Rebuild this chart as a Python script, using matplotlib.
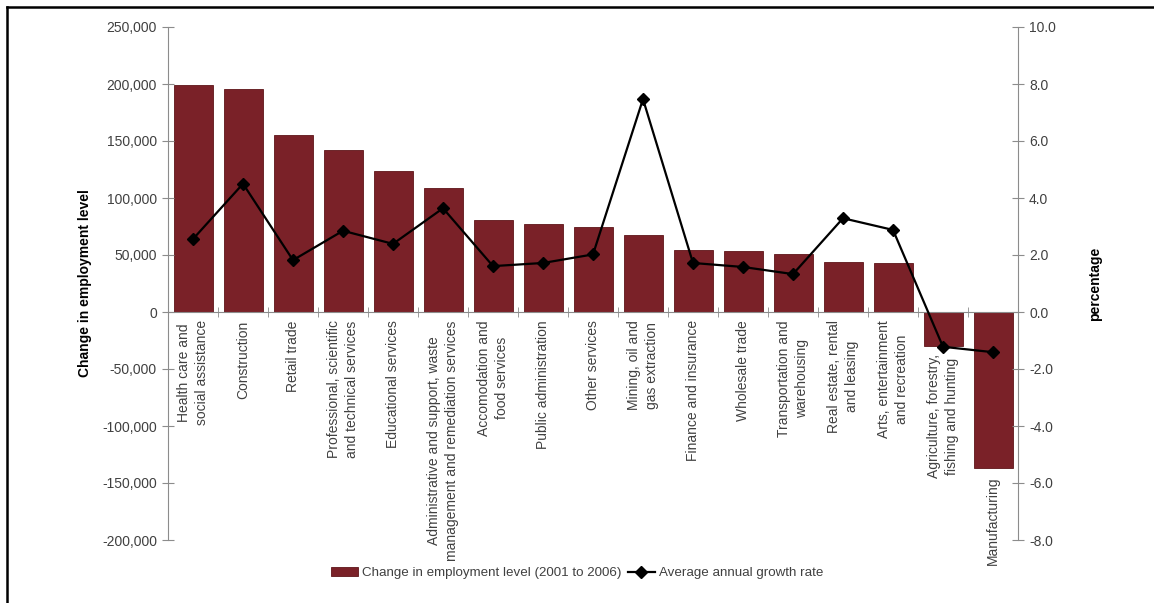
import matplotlib.pyplot as plt
from matplotlib.lines import Line2D
import numpy as np

plt.rcParams['font.family'] = ['Liberation Sans', 'DejaVu Sans']

industries = [
    "Health care and\nsocial assistance",
    "Construction",
    "Retail trade",
    "Professional, scientific\nand technical services",
    "Educational services",
    "Administrative and support, waste\nmanagement and remediation services",
    "Accomodation and\nfood services",
    "Public administration",
    "Other services",
    "Mining, oil and\ngas extraction",
    "Finance and insurance",
    "Wholesale trade",
    "Transportation and\nwarehousing",
    "Real estate, rental\nand leasing",
    "Arts, entertainment\nand recreation",
    "Agriculture, forestry,\nfishing and hunting",
    "Manufacturing",
]
employment_change = [199500, 195900, 155500, 142400, 124000, 108500, 80400, 77200,
                     74300, 67300, 54700, 53200, 51200, 43900, 42700, -29500, -137100]
growth_rate = [2.56, 4.50, 1.82, 2.85, 2.39, 3.64, 1.61, 1.72, 2.02, 7.47,
               1.72, 1.58, 1.33, 3.29, 2.88, -1.22, -1.41]

bar_color = '#7a2128'
axis_grey = '#8c8c8c'
text_grey = '#404040'

fig = plt.figure(figsize=(11.54, 6.03), dpi=100)
ax = fig.add_axes([168 / 1154, 1 - 540 / 603, 850 / 1154, 513 / 603])
x = np.arange(len(industries))

bars = ax.bar(x, employment_change, width=0.78, color=bar_color, edgecolor='#5e1519',
              linewidth=0.6, label='Change in employment level (2001 to 2006)')
ax.set_xlim(-0.5, len(industries) - 0.5)
ax.set_ylim(-200000, 250000)
ax.set_yticks(np.arange(-200000, 250001, 50000))
ax.set_yticklabels(['{:,.0f}'.format(v) for v in np.arange(-200000, 250001, 50000)])

# zero line as the category axis, ticks between categories
ax.spines['top'].set_visible(False)
ax.spines['right'].set_visible(False)
ax.spines['bottom'].set_position(('data', 0))
ax.spines['bottom'].set_color(axis_grey)
ax.spines['left'].set_color(axis_grey)
ax.set_xticks(x)
ax.set_xticklabels([])
ax.tick_params(axis='x', which='major', length=0)
ax.set_xticks(np.arange(-0.5, len(industries) + 0.5, 1)[1:-1], minor=True)
ax.tick_params(axis='x', which='minor', length=7, direction='inout', color=axis_grey)
ax.tick_params(axis='y', length=8, direction='inout', color=axis_grey,
               labelsize=10, labelcolor=text_grey, pad=4)

# category labels sit under the bar (below zero, or below the bar end if negative)
for xi, name, v in zip(x, industries, employment_change):
    ax.annotate(name, xy=(xi, min(0, v)), xytext=(0, -6), textcoords='offset points',
                rotation=90, ha='center', va='top', multialignment='center',
                linespacing=1.4, fontsize=10, color=text_grey)

ax.set_ylabel('Change in employment level', fontsize=10, fontweight='bold', labelpad=7)

ax2 = ax.twinx()
ax2.plot(x, growth_rate, color='black', linewidth=1.6, marker='D', markersize=6.5,
         label='Average annual growth rate')
ax2.set_ylim(-8, 10)
ax2.set_yticks(np.arange(-8, 10.1, 2))
ax2.set_yticklabels(['{:.1f}'.format(v) for v in np.arange(-8, 10.1, 2)])
for s in ['top', 'bottom', 'left']:
    ax2.spines[s].set_visible(False)
ax2.spines['right'].set_color(axis_grey)
ax2.tick_params(axis='y', length=8, direction='inout', color=axis_grey,
                labelsize=10, labelcolor=text_grey, pad=4)
ax2.set_ylabel('percentage', fontsize=10, fontweight='bold', labelpad=23)

handles = [bars, ax2.get_lines()[0]]
fig.legend(handles, [h.get_label() for h in handles], loc='center',
           bbox_to_anchor=(0.5, 1 - 573 / 603), ncol=2, frameon=False,
           fontsize=9.6, handlelength=2.0, columnspacing=0.5, handletextpad=0.3,
           labelcolor=text_grey)

# outer frame (top and left edges visible in the original crop)
fig.add_artist(Line2D([7 / 1154, 7 / 1154], [0, 1 - 7 / 603], color='black', linewidth=1.8))
fig.add_artist(Line2D([7 / 1154, 1], [1 - 7 / 603, 1 - 7 / 603], color='black', linewidth=1.8))

fig.savefig('out.png', dpi=100)
